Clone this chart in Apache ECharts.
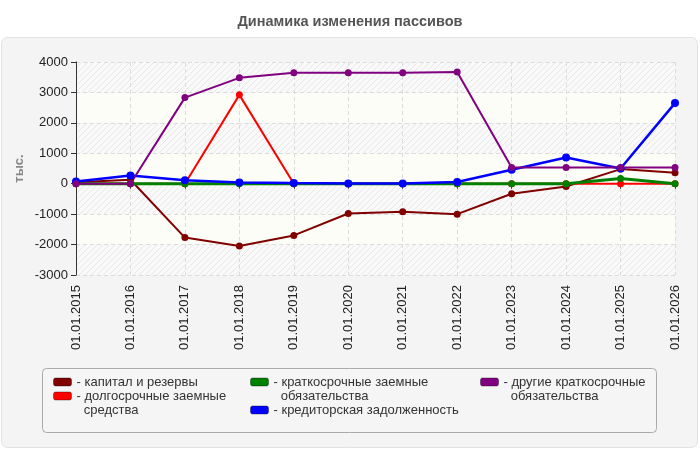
<!DOCTYPE html>
<html>
<head>
<meta charset="utf-8">
<title>Динамика изменения пассивов</title>
<script src="https://cdn.jsdelivr.net/npm/echarts@6/dist/echarts.min.js"></script>
<style>
  html, body { margin: 0; padding: 0; background: #fff; }
  #chart { width: 700px; height: 450px; }
</style>
</head>
<body>
<div id="chart"></div>
<script>
// даты отчётности
var categories = ['01.01.2015', '01.01.2016', '01.01.2017', '01.01.2018', '01.01.2019', '01.01.2020',
                  '01.01.2021', '01.01.2022', '01.01.2023', '01.01.2024', '01.01.2025', '01.01.2026'];

// значения, тыс.
var capital    = [50, 130, -1770, -2050, -1700, -980, -920, -1000, -330, -90, 480, 360];
var longTerm   = [0, 0, 0, 2920, 0, 0, 0, 0, 0, 0, 0, 0];
var shortTerm  = [0, 0, 0, 0, 0, 0, 0, 0, 0, 0, 175, 0];
var payables   = [70, 270, 110, 40, 20, 10, 10, 55, 460, 860, 500, 2650];
var otherShort = [0, 0, 2830, 3480, 3650, 3650, 3650, 3670, 535, 535, 535, 535];

var yTicks = [-3000, -2000, -1000, 0, 1000, 2000, 3000, 4000];

var FONT = '"Liberation Sans", Arial, sans-serif';

// штриховка для полос фона
function hatch() {
    var c = document.createElement('canvas');
    c.width = 6; c.height = 6;
    var ctx = c.getContext('2d');
    ctx.fillStyle = '#f9f9f9';
    ctx.fillRect(0, 0, 6, 6);
    ctx.strokeStyle = '#e8e8e8';
    ctx.lineWidth = 1;
    ctx.beginPath();
    ctx.moveTo(0, 6); ctx.lineTo(6, 0);
    ctx.moveTo(-1, 1); ctx.lineTo(1, -1);
    ctx.moveTo(5, 7); ctx.lineTo(7, 5);
    ctx.stroke();
    return { image: c, repeat: 'repeat' };
}

var series = [
    { name: 'капитал и резервы', data: capital, color: '#800000', width: 2, size: 7 },
    { name: 'долгосрочные заемные средства', data: longTerm, color: '#ff0000', width: 2, size: 7 },
    { name: 'краткосрочные заемные обязательства', data: shortTerm, color: '#008000', width: 3, size: 7 },
    { name: 'кредиторская задолженность', data: payables, color: '#0000ff', width: 2.5, size: 8 },
    { name: 'другие краткосрочные обязательства', data: otherShort, color: '#800080', width: 2, size: 7 }
];

// пустая первая строка держит значок напротив первой строки подписи
var wrapped = {
    'капитал и резервы': '- капитал и резервы',
    'долгосрочные заемные средства': '\n- долгосрочные заемные\n\u00a0\u00a0средства',
    'краткосрочные заемные обязательства': '\n- краткосрочные заемные\n\u00a0\u00a0обязательства',
    'кредиторская задолженность': '- кредиторская задолженность',
    'другие краткосрочные обязательства': '\n- другие краткосрочные\n\u00a0\u00a0обязательства'
};

// по одной легенде на элемент, чтобы разложить их колонками
function legendItem(name, left, top) {
    return {
        data: [name],
        left: left,
        top: top,
        padding: 0,
        itemWidth: 18,
        itemHeight: 8,
        icon: 'roundRect',
        selectedMode: false,
        itemStyle: { borderColor: 'rgba(0,0,0,0.35)', borderWidth: 1 },
        formatter: function (n) { return wrapped[n]; },
        textStyle: { fontFamily: FONT, fontSize: 13, color: '#333', lineHeight: 14 }
    };
}

var chart = echarts.init(document.getElementById('chart'));
chart.setOption({
    backgroundColor: '#fff',
    animation: false,
    title: {
        text: 'Динамика изменения пассивов',
        left: 'center',
        top: 14,
        padding: 0,
        textStyle: { fontFamily: FONT, fontSize: 14.5, fontWeight: 'bold', color: '#555' }
    },
    graphic: [
        {
            type: 'rect', z: -10, silent: true,
            shape: { x: 1.5, y: 37.5, width: 696, height: 410, r: 6 },
            style: { fill: '#f4f4f4', stroke: '#e2e2e2', lineWidth: 1 }
        },
        {
            type: 'rect', z: -9, silent: true,
            shape: { x: 42.5, y: 368.5, width: 614, height: 64, r: 4 },
            style: { fill: '#f5f5f5', stroke: '#aaaaaa', lineWidth: 1 }
        }
    ],
    legend: [
        legendItem(series[0].name, 53, 375),
        legendItem(series[1].name, 53, 375),
        legendItem(series[2].name, 250, 361),
        legendItem(series[3].name, 250, 403),
        legendItem(series[4].name, 480, 361)
    ],
    grid: { left: 76, right: 25, top: 62, bottom: 175, containLabel: false },
    xAxis: {
        type: 'category',
        data: categories,
        boundaryGap: false,
        axisLine: { lineStyle: { color: '#333' } },
        axisTick: { alignWithLabel: true, length: 5, lineStyle: { color: '#333' } },
        axisLabel: { rotate: 90, margin: 10, fontFamily: FONT, fontSize: 13, color: '#222' },
        splitLine: { show: true, lineStyle: { color: '#dcdcdc', type: [4, 3] } }
    },
    yAxis: {
        type: 'value',
        min: yTicks[0],
        max: yTicks[yTicks.length - 1],
        interval: 1000,
        name: 'тыс.',
        nameLocation: 'middle',
        nameGap: 50,
        nameMoveOverlap: false,
        nameTextStyle: { fontFamily: FONT, fontSize: 13, fontWeight: 'bold', color: '#888' },
        axisLine: { show: true, lineStyle: { color: '#333' } },
        axisTick: { show: true, length: 5, lineStyle: { color: '#333' } },
        axisLabel: {
            margin: 8, fontFamily: FONT, fontSize: 13, color: '#222',
            formatter: function (v) { return String(v); }
        },
        splitLine: { show: true, lineStyle: { color: '#dcdcdc', type: [4, 3] } },
        splitArea: { show: true, areaStyle: { color: [hatch(), '#fdfdf7'] } }
    },
    series: series.map(function (s) {
        return {
            name: s.name,
            type: 'line',
            data: s.data,
            color: s.color,
            symbol: 'circle',
            symbolSize: s.size,
            showSymbol: true,
            lineStyle: { width: s.width, color: s.color },
            itemStyle: { color: s.color }
        };
    })
});
</script>
</body>
</html>
